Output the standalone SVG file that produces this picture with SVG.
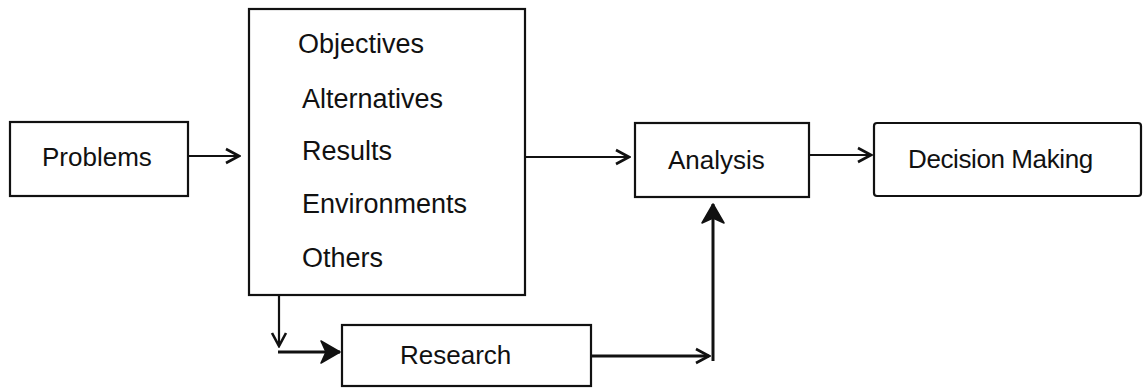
<svg xmlns="http://www.w3.org/2000/svg" width="1143" height="388" viewBox="0 0 1143 388">
<style>
.box{fill:#fff;stroke:#111;stroke-width:2.2}
.t{font-family:"Liberation Sans",Arial,sans-serif;font-size:26px;fill:#111}
.c{fill:none;stroke:#111;stroke-width:2.2}
.cb{fill:none;stroke:#111;stroke-width:3}
</style>
<defs>
<marker id="chev" viewBox="-16 -10 18 20" refX="0" refY="0" markerWidth="18" markerHeight="20" markerUnits="userSpaceOnUse" orient="auto">
<path d="M-13,-7 L0,0 L-13,7" fill="none" stroke="#111" stroke-width="2.6" stroke-linejoin="miter"/>
</marker>
<marker id="bold" viewBox="-22 -14 24 28" refX="0" refY="0" markerWidth="24" markerHeight="28" markerUnits="userSpaceOnUse" orient="auto">
<path d="M-19,-11 L0,0 L-19,11 L-14,0 z" fill="#111" stroke="#111" stroke-width="1.5" stroke-linejoin="round"/>
</marker>
</defs>
<g id="problems"><rect class="box" x="10" y="122" width="178" height="74"/><text class="t" x="42" y="166">Problems</text></g>
<g id="objectives"><rect class="box" x="249" y="9" width="276" height="286"/>
<text class="t" x="298" y="53" style="font-size:27px">Objectives</text>
<text class="t" x="302" y="108" style="font-size:27px">Alternatives</text>
<text class="t" x="302" y="160" style="font-size:27px">Results</text>
<text class="t" x="302" y="213" style="font-size:27px">Environments</text>
<text class="t" x="302" y="267" style="font-size:27px">Others</text></g>
<g id="analysis"><rect class="box" x="635" y="123" width="174" height="74"/><text class="t" x="668" y="169">Analysis</text></g>
<g id="decision"><rect class="box" x="874" y="123" width="267" height="73" rx="3"/><text class="t" x="908" y="168" style="letter-spacing:-0.4px">Decision Making</text></g>
<g id="research"><rect class="box" x="342" y="325" width="249" height="61"/><text class="t" x="400" y="364">Research</text></g>
<g id="connectors">
<line class="c" x1="188" y1="156" x2="239" y2="156" marker-end="url(#chev)"/>
<line class="c" x1="525" y1="157" x2="629" y2="157" marker-end="url(#chev)"/>
<line class="c" x1="809" y1="155" x2="871" y2="155" marker-end="url(#chev)"/>
<line class="c" x1="279" y1="295" x2="279" y2="346" marker-end="url(#chev)"/>
<line class="cb" x1="278" y1="352" x2="340" y2="352" marker-end="url(#bold)"/>
<line class="cb" x1="591" y1="356" x2="709" y2="356" marker-end="url(#chev)"/>
<line class="cb" x1="713" y1="361" x2="713" y2="204" marker-end="url(#bold)"/>
</g>
</svg>
